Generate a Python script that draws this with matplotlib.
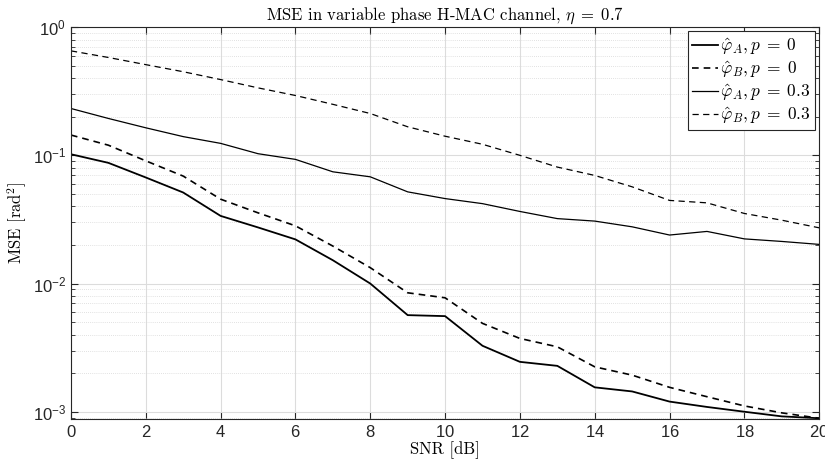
import matplotlib
matplotlib.use('Agg')
import matplotlib.pyplot as plt
from matplotlib.font_manager import FontProperties
from matplotlib.ticker import LogLocator, NullFormatter, FixedLocator
import numpy as np

plt.rcParams['mathtext.fontset'] = 'custom'
plt.rcParams['mathtext.rm'] = 'Liberation Sans'
plt.rcParams['mathtext.it'] = 'Liberation Sans:italic'
plt.rcParams['font.family'] = ['Liberation Sans', 'DejaVu Sans']
plt.rcParams['axes.formatter.use_mathtext'] = True

snr = list(range(0, 21))

# p = 0 (lower curves)
mse_a_p0 = [0.102, 0.0874, 0.0672, 0.0513, 0.0337, 0.0274, 0.0221, 0.0152, 0.0100,
            0.00567, 0.00557, 0.00327, 0.00245, 0.00228, 0.00155, 0.00144, 0.00120,
            0.00109, 0.00100, 0.00092, 0.00089]
mse_b_p0 = [0.144, 0.120, 0.0906, 0.0689, 0.0455, 0.0356, 0.0282, 0.0196, 0.0133,
            0.00847, 0.00774, 0.00489, 0.00373, 0.00321, 0.00224, 0.00193, 0.00155,
            0.00131, 0.00111, 0.00098, 0.00089]
# p = 0.3 (upper curves)
mse_a_p3 = [0.232, 0.194, 0.164, 0.140, 0.124, 0.103, 0.093, 0.0744, 0.068,
            0.0519, 0.046, 0.042, 0.0365, 0.0321, 0.0307, 0.0277, 0.0239,
            0.0255, 0.0223, 0.0213, 0.0202]
mse_b_p3 = [0.653, 0.58, 0.51, 0.449, 0.39, 0.336, 0.293, 0.25, 0.212,
            0.167, 0.141, 0.122, 0.100, 0.081, 0.0697, 0.0568, 0.0445,
            0.0426, 0.0352, 0.0312, 0.0272]

labels = [r'$\hat{\varphi}_A, p\;=\;0$', r'$\hat{\varphi}_B, p\;=\;0$',
          r'$\hat{\varphi}_A, p\;=\;0.3$', r'$\hat{\varphi}_B, p\;=\;0.3$']

cm_font = FontProperties(family='cmr10', math_fontfamily='cm', size=12)
leg_font = FontProperties(family='cmr10', math_fontfamily='cm', size=12.5)

fig = plt.figure(figsize=(8.25, 4.68), dpi=100)
ax = fig.add_axes([0.086, 0.105, 0.907, 0.837])

dash = (0, (5, 3.5))
ax.semilogy(snr, mse_a_p0, color='k', lw=1.3, label=labels[0])
ax.semilogy(snr, mse_b_p0, color='k', lw=1.2, linestyle=(0, (4, 3)), label=labels[1])
ax.semilogy(snr, mse_a_p3, color='k', lw=0.9, label=labels[2])
ax.semilogy(snr, mse_b_p3, color='k', lw=0.9, linestyle=dash, label=labels[3])

ax.set_xlim(0, 20)
ax.set_ylim(8.8e-4, 1)
ax.xaxis.set_major_locator(FixedLocator(np.arange(0, 21, 2)))
ax.yaxis.set_major_locator(LogLocator(base=10, numticks=10))
ax.yaxis.set_minor_locator(LogLocator(base=10, subs=np.arange(2, 10), numticks=20))
ax.yaxis.set_minor_formatter(NullFormatter())

ax.grid(True, which='major', color='#dcdcdc', lw=0.8, linestyle='-')
ax.grid(True, which='minor', axis='y', color='#d8d8d8', lw=0.6, linestyle=(0, (1, 1.5)))
ax.set_axisbelow(True)

for s in ax.spines.values():
    s.set_color('#262626')
    s.set_linewidth(0.8)
ax.tick_params(which='both', direction='in', top=True, right=True,
               colors='#262626', labelsize=12, labelcolor='#262626')
ax.tick_params(which='major', length=5, width=0.8)
ax.tick_params(which='minor', length=3, width=0.6)

ax.set_title(r'MSE in variable phase H-MAC channel, $\eta\;=\;0.7$',
             fontproperties=cm_font, pad=5)
ax.set_xlabel('SNR [dB]', fontproperties=cm_font, labelpad=1)
ax.set_ylabel(r'MSE [rad$^2$]', fontproperties=cm_font, labelpad=3)

leg = ax.legend(loc='upper right', prop=leg_font, handlelength=1.5,
                handletextpad=0.1, borderpad=0.25, labelspacing=0.12,
                borderaxespad=0.25, fancybox=False, framealpha=1)
leg.get_frame().set_edgecolor('#262626')
leg.get_frame().set_linewidth(0.8)

fig.savefig('out.png', dpi=100)
